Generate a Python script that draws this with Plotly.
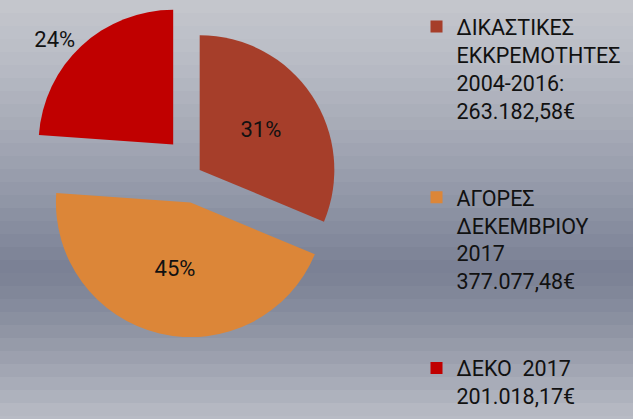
import plotly.graph_objects as go

# ---- data ----
categories = [
    "ΔΙΚΑΣΤΙΚΕΣ<br>ΕΚΚΡΕΜΟΤΗΤΕΣ<br>2004-2016:<br>263.182,58€",
    "ΑΓΟΡΕΣ<br>ΔΕΚΕΜΒΡΙΟΥ<br>2017<br>377.077,48€",
    "ΔΕΚΟ  2017<br>201.018,17€",
]
amounts = [263182.58, 377077.48, 201018.17]

# ---- style ----
slice_colors = ["#a63e2a", "#dc8638", "#c00000"]
pulls = [0.015, 0.24, 0.27]
text_positions = ["inside", "inside", "outside"]
W, H = 633, 419

# legend spacing: pad entries with blank lines (except last)
legend_labels = [c + "<br>\u00a0<br>\u00a0" if i < len(categories) - 1 else c
                 for i, c in enumerate(categories)]

# background gradient bands
stops = [(0, (197, 199, 205)), (60, (185, 188, 197)), (130, (166, 170, 182)),
         (200, (144, 150, 166)), (270, (122, 128, 148)), (320, (138, 144, 160)),
         (370, (162, 166, 179)), (419, (185, 188, 198))]

def color_at(y):
    for (y0, c0), (y1, c1) in zip(stops[:-1], stops[1:]):
        if y0 <= y <= y1:
            t = (y - y0) / (y1 - y0)
            return "rgb(%d,%d,%d)" % tuple(round(a + (b - a) * t) for a, b in zip(c0, c1))
    return "rgb(%d,%d,%d)" % stops[-1][1]

shapes = []
band = 13
y = 0
while y < H:
    y2 = min(H, y + band)
    shapes.append(dict(type="rect", xref="paper", yref="paper", x0=0, x1=1,
                       y0=1 - y2 / H, y1=1 - y / H, line=dict(width=0),
                       fillcolor=color_at((y + y2) / 2), layer="below"))
    y = y2

fig = go.Figure(go.Pie(
    labels=legend_labels,
    values=amounts,
    sort=False,
    direction="clockwise",
    rotation=0,
    pull=pulls,
    marker=dict(colors=slice_colors, line=dict(width=0)),
    texttemplate="%{percent:.0%}",
    textposition=text_positions,
    insidetextorientation="horizontal",
    textfont=dict(family="Roboto", size=22, color="#111111"),
    hoverinfo="label+value+percent",
    domain=dict(x=[27 / W, 369 / W], y=[1 - 342 / H, 1.0]),
))

fig.update_layout(
    width=W, height=H,
    margin=dict(l=0, r=0, t=0, b=0, pad=0, autoexpand=False),
    paper_bgcolor="rgb(160,164,176)",
    shapes=shapes,
    showlegend=True,
    legend=dict(
        x=0.658, y=1 - 6 / H, xanchor="left", yanchor="top",
        valign="top",
        bgcolor="rgba(0,0,0,0)",
        borderwidth=0,
        font=dict(family="Roboto", size=21.5, color="#111111"),
    ),
)

fig.write_html("out.html", config={"displayModeBar": False},
               post_script="document.body.style.margin='0';")
